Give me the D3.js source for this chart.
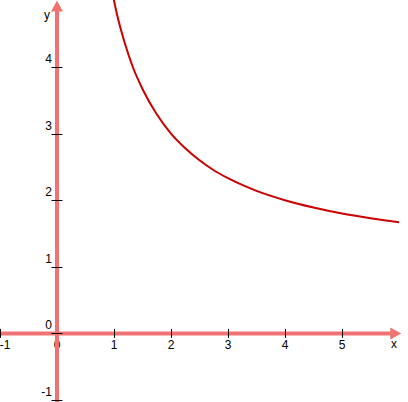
<!DOCTYPE html>
<html>
<head>
<meta charset="utf-8">
<script src="https://cdn.jsdelivr.net/npm/d3@7"></script>
<style>
  html, body { margin: 0; padding: 0; background: #fff; }
  svg { display: block; }
  text { font-family: "Liberation Sans", Arial, sans-serif; font-size: 12px; fill: #000; }
</style>
</head>
<body>
<svg id="chart" width="408" height="402"></svg>
<script>
// Data
const curveX = [0.975, 1.05, 1.2, 1.33, 1.5, 1.75, 2, 2.25, 2.5, 2.75, 3, 3.5, 4, 4.5, 5, 5.5, 6];
const curveY = [5.1, 4.8, 4.33, 4.0, 3.67, 3.29, 3.0, 2.78, 2.6, 2.45, 2.33, 2.14, 2.0, 1.89, 1.8, 1.73, 1.67];
const xTicks = [-1, 0, 1, 2, 3, 4, 5];
const yTicks = [-1, 0, 1, 2, 3, 4];
const xTickLabels = ["-1", "0", "1", "2", "3", "4", "5"];
const yTickLabels = ["-1", "0", "1", "2", "3", "4"];

const svg = d3.select("#chart");
const x = d3.scaleLinear().domain([-1, 6]).range([0, 399]);
const y = d3.scaleLinear().domain([-1, 5]).range([400, 0.4]);

const axisColor = "#f07272";
const x0 = x(0), y0 = y(0);

// tick labels (drawn beneath axes)
svg.selectAll("text.xl").data(xTicks).enter().append("text")
  .attr("class", "xl")
  .attr("x", (d) => d === -1 ? x(d) + 5 : x(d))
  .attr("y", y0 + 16)
  .attr("text-anchor", "middle")
  .text((d, i) => xTickLabels[i]);

svg.selectAll("text.yl").data(yTicks).enter().append("text")
  .attr("class", "yl")
  .attr("x", x0 - 5)
  .attr("y", (d) => y(d) - 4)
  .attr("text-anchor", "end")
  .text((d, i) => yTickLabels[i]);

// axes
svg.append("line")
  .attr("x1", x(-1)).attr("x2", x(6.02) - 8)
  .attr("y1", y0).attr("y2", y0)
  .attr("stroke", axisColor).attr("stroke-width", 4);
svg.append("path")
  .attr("d", `M${x(6.04)},${y0} L${x(6.04) - 11},${y0 - 6} L${x(6.04) - 11},${y0 + 6} Z`)
  .attr("fill", axisColor);

svg.append("line")
  .attr("x1", x0).attr("x2", x0)
  .attr("y1", y(5) + 8).attr("y2", 402)
  .attr("stroke", axisColor).attr("stroke-width", 4);
svg.append("path")
  .attr("d", `M${x0},${y(5)} L${x0 - 6},${y(5) + 11} L${x0 + 6},${y(5) + 11} Z`)
  .attr("fill", axisColor);

// ticks
svg.selectAll("line.xt").data(xTicks.filter(d => d !== 0)).enter().append("line")
  .attr("class", "xt")
  .attr("x1", d => x(d) + 0.5).attr("x2", d => x(d) + 0.5)
  .attr("y1", y0 - 4.5).attr("y2", y0 + 4.5)
  .attr("stroke", "#000").attr("stroke-width", 1);
svg.selectAll("line.yt").data(yTicks).enter().append("line")
  .attr("class", "yt")
  .attr("x1", x0 - 5.5).attr("x2", x0 + 5.5)
  .attr("y1", d => Math.round(y(d)) + 0.5).attr("y2", d => Math.round(y(d)) + 0.5)
  .attr("stroke", "#000").attr("stroke-width", 1);

// axis names
svg.append("text").attr("x", x0 - 7).attr("y", 19).attr("text-anchor", "end").text("y");
svg.append("text").attr("x", 394).attr("y", y0 + 15).attr("text-anchor", "middle").text("x");

// curve
const pts = curveX.map((d, i) => [d, curveY[i]]);
svg.append("path")
  .datum(pts)
  .attr("fill", "none")
  .attr("stroke", "#cc0000")
  .attr("stroke-width", 2)
  .attr("d", d3.line().x(d => x(d[0])).y(d => y(d[1])).curve(d3.curveMonotoneX));
</script>
</body>
</html>
